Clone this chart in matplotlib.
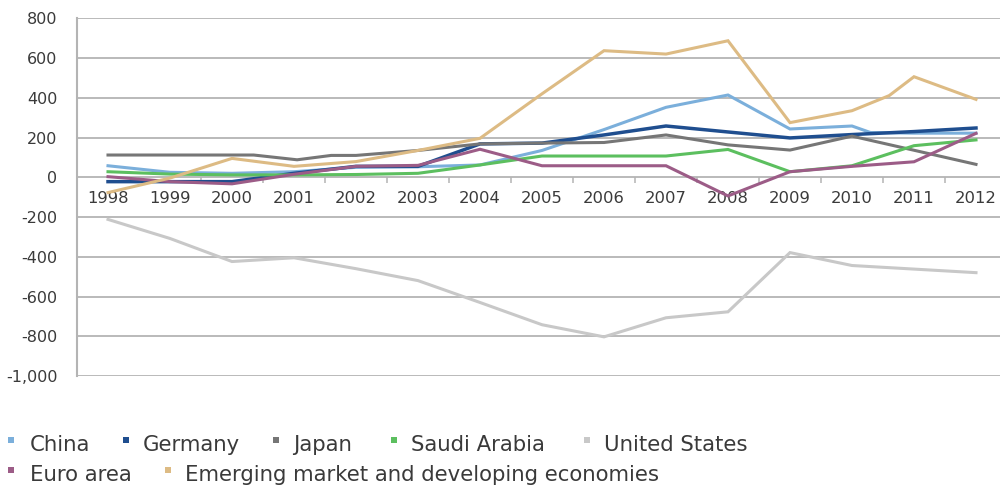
import matplotlib
matplotlib.use('Agg')
import matplotlib.pyplot as plt
from matplotlib.patches import Rectangle
from matplotlib.ticker import FuncFormatter

plt.rcParams['font.family'] = ['DejaVu Sans']

years = list(range(1998, 2013))
year_labels = [str(y) for y in years]

china_x = [1998, 1999, 2000, 2001, 2002, 2003, 2004, 2005, 2006, 2007, 2008, 2009, 2010, 2010.3, 2011, 2012]
china_y = [58, 25, 20, 28, 50, 53, 62, 135, 240, 352, 414, 243, 258, 225, 222, 222]

germany_y = [-22, -22, -22, 20, 55, 55, 168, 172, 213, 258, 228, 198, 215, 230, 248]

japan_x = [1998, 1999, 2000, 2000.35, 2001.05, 2001.6, 2002, 2003, 2004, 2005, 2006, 2007, 2008, 2009, 2010, 2011, 2012]
japan_y = [112, 112, 112, 112, 88, 110, 110, 135, 168, 172, 175, 213, 163, 137, 207, 136, 65]

saudi_y = [28, 16, 12, 12, 14, 20, 62, 107, 107, 107, 140, 28, 58, 159, 188]

us_y = [-212, -308, -424, -405, -460, -520, -630, -742, -803, -707, -677, -379, -444, -462, -480]

euro_y = [3, -22, -33, 15, 55, 60, 141, 58, 58, 58, -94, 28, 55, 78, 221]

emerging_x = [1998, 1999, 2000, 2001, 2002, 2003, 2004, 2005, 2006, 2007, 2008, 2009, 2010, 2010.6, 2011, 2012]
emerging_y = [-77, -4, 95, 55, 79, 135, 196, 420, 637, 620, 687, 275, 335, 411, 506, 392]

names = ['China', 'Germany', 'Japan', 'Saudi Arabia', 'United States',
         'Euro area', 'Emerging market and developing economies']
colors = ['#7bafdb', '#1f4e8f', '#767676', '#5cbf5f', '#c8c8c8', '#9c5c87', '#ddbb84']

series = [
    (china_x, china_y),
    (years, germany_y),
    (japan_x, japan_y),
    (years, saudi_y),
    (years, us_y),
    (years, euro_y),
    (emerging_x, emerging_y),
]

W, H = 1000, 486
fig = plt.figure(figsize=(W / 100, H / 100), dpi=100)
ax = fig.add_axes([77 / W, 1 - 376 / H, 923 / W, (376 - 18.3) / H])

grid_c = '#b4b4b4'
text_c = '#3a3a3a'

for (xs, ys), c, name in zip(series, colors, names):
    lw = 2.5 if name == 'Germany' else 2.2
    ax.plot(xs, ys, color=c, lw=lw, solid_joinstyle='miter', zorder=3)

ax.set_xlim(1997.5, 1997.5 + 923 / 62)
ax.set_ylim(-1000, 800)
ax.set_yticks(range(-1000, 801, 200))
ax.yaxis.set_major_formatter(FuncFormatter(lambda v, p: f'{int(v):,}'))
ax.grid(axis='y', color=grid_c, lw=1.3, zorder=1)
ax.set_axisbelow(True)

for s in ['top', 'right']:
    ax.spines[s].set_visible(False)
ax.spines['left'].set_color(grid_c)
ax.spines['left'].set_linewidth(1.5)
ax.spines['bottom'].set_position(('data', 0))
ax.spines['bottom'].set_visible(False)

ax.set_xticks(years)
ax.set_xticklabels(year_labels)
ax.set_xticks([y + 0.5 for y in years[:-1]], minor=True)
ax.tick_params(axis='x', which='major', length=0, pad=10, labelsize=11.8, labelcolor=text_c)
ax.tick_params(axis='x', which='minor', length=4, width=1.1, color=grid_c, direction='out')
ax.tick_params(axis='y', length=0, pad=14, labelsize=11.5, labelcolor=text_c)

# legend laid out like the original flowing rows
leg_rows = [
    [(8, 30, 0), (123, 143, 1), (273, 293, 2), (391, 411, 3), (584, 604, 4)],
    [(8, 30, 5), (165, 185, 6)],
]
baselines = [451, 481]
for row, base in zip(leg_rows, baselines):
    for mx, tx, i in row:
        fig.add_artist(Rectangle((mx / W, 1 - (base - 8) / H), 6 / W, 6 / H,
                                 transform=fig.transFigure, color=colors[i], lw=0))
        fig.text(tx / W, 1 - base / H, names[i], fontsize=15.3, color=text_c,
                 ha='left', va='baseline')

fig.savefig('out.png', dpi=100, facecolor='white')
